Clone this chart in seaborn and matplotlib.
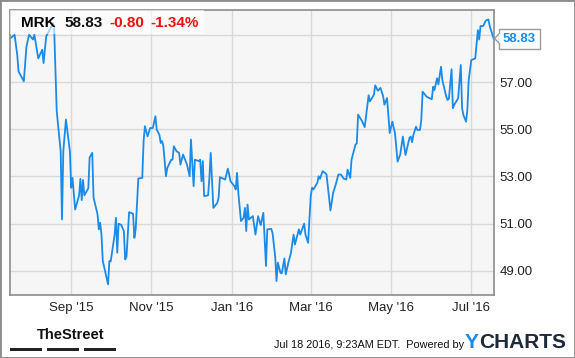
import numpy as np
import pandas as pd
import matplotlib
matplotlib.use("Agg")
import matplotlib.pyplot as plt
import matplotlib.dates as mdates
from matplotlib.patches import Rectangle, Polygon
import seaborn as sns

# MRK daily close
dates = [
    "2015-07-17", "2015-07-20", "2015-07-22", "2015-07-23", "2015-07-27", "2015-07-29",
    "2015-07-31", "2015-08-03", "2015-08-04", "2015-08-07", "2015-08-10", "2015-08-11",
    "2015-08-13", "2015-08-17", "2015-08-18", "2015-08-19", "2015-08-21", "2015-08-24",
    "2015-08-25", "2015-08-26", "2015-08-28", "2015-08-31", "2015-09-01", "2015-09-02",
    "2015-09-04", "2015-09-07", "2015-09-08", "2015-09-09", "2015-09-10", "2015-09-11",
    "2015-09-14", "2015-09-15", "2015-09-17", "2015-09-18", "2015-09-21", "2015-09-22",
    "2015-09-23", "2015-09-24", "2015-09-25", "2015-09-29", "2015-09-30", "2015-10-01",
    "2015-10-04", "2015-10-05", "2015-10-06", "2015-10-07", "2015-10-09", "2015-10-11",
    "2015-10-12", "2015-10-13", "2015-10-15", "2015-10-18", "2015-10-19", "2015-10-20",
    "2015-10-22", "2015-10-25", "2015-10-26", "2015-10-27", "2015-10-29", "2015-10-31",
    "2015-11-02", "2015-11-04", "2015-11-05", "2015-11-07", "2015-11-08", "2015-11-09",
    "2015-11-10", "2015-11-12", "2015-11-13", "2015-11-16", "2015-11-17", "2015-11-18",
    "2015-11-20", "2015-11-22", "2015-11-23", "2015-11-25", "2015-11-28", "2015-11-30",
    "2015-12-01", "2015-12-03", "2015-12-04", "2015-12-07", "2015-12-08", "2015-12-09",
    "2015-12-10", "2015-12-11", "2015-12-14", "2015-12-15", "2015-12-16", "2015-12-17",
    "2015-12-18", "2015-12-21", "2015-12-22", "2015-12-23", "2015-12-27", "2015-12-29",
    "2015-12-30", "2015-12-31", "2016-01-03", "2016-01-04", "2016-01-05", "2016-01-06",
    "2016-01-08", "2016-01-10", "2016-01-11", "2016-01-12", "2016-01-13", "2016-01-14",
    "2016-01-17", "2016-01-19", "2016-01-21", "2016-01-23", "2016-01-25", "2016-01-27",
    "2016-01-28", "2016-01-31", "2016-02-01", "2016-02-03", "2016-02-04", "2016-02-05",
    "2016-02-07", "2016-02-08", "2016-02-10", "2016-02-11", "2016-02-13", "2016-02-15",
    "2016-02-17", "2016-02-18", "2016-02-21", "2016-02-22", "2016-02-25", "2016-02-26",
    "2016-02-28", "2016-03-01", "2016-03-02", "2016-03-03", "2016-03-06", "2016-03-07",
    "2016-03-08", "2016-03-10", "2016-03-12", "2016-03-13", "2016-03-16", "2016-03-18",
    "2016-03-20", "2016-03-22", "2016-03-24", "2016-03-26", "2016-03-28", "2016-03-29",
    "2016-03-31", "2016-04-01", "2016-04-04", "2016-04-05", "2016-04-06", "2016-04-09",
    "2016-04-11", "2016-04-14", "2016-04-15", "2016-04-18", "2016-04-19", "2016-04-21",
    "2016-04-23", "2016-04-25", "2016-04-26", "2016-04-28", "2016-04-30", "2016-05-02",
    "2016-05-04", "2016-05-06", "2016-05-08", "2016-05-10", "2016-05-11", "2016-05-12",
    "2016-05-15", "2016-05-16", "2016-05-17", "2016-05-18", "2016-05-20", "2016-05-21",
    "2016-05-23", "2016-05-24", "2016-05-25", "2016-05-28", "2016-06-01", "2016-06-02",
    "2016-06-03", "2016-06-05", "2016-06-06", "2016-06-08", "2016-06-09", "2016-06-12",
    "2016-06-13", "2016-06-14", "2016-06-16", "2016-06-17", "2016-06-18", "2016-06-21",
    "2016-06-23", "2016-06-24", "2016-06-25", "2016-06-27", "2016-06-28", "2016-06-29",
    "2016-07-01", "2016-07-04", "2016-07-06", "2016-07-07", "2016-07-08", "2016-07-10",
    "2016-07-12", "2016-07-14", "2016-07-15", "2016-07-18",
]
prices = [
    58.86, 59.00, 58.15, 57.45, 57.03, 58.50,
    59.00, 58.80, 59.00, 58.00, 58.37, 57.80,
    58.93, 59.35, 59.50, 59.35, 55.76, 54.07,
    51.18, 54.07, 55.41, 54.07, 52.52, 52.94,
    51.60, 52.20, 52.90, 52.00, 52.85, 52.20,
    52.50, 53.80, 54.00, 52.10, 51.40, 50.76,
    51.04, 50.54, 49.42, 48.43, 49.42, 49.40,
    50.54, 51.25, 49.77, 51.00, 50.95, 50.69,
    49.49, 49.60, 51.49, 51.42, 50.40, 50.76,
    52.91, 52.94, 54.49, 55.13, 54.70, 55.05,
    55.05, 55.55, 54.98, 54.77, 54.42, 54.50,
    54.30, 53.01, 53.36, 53.71, 53.71, 54.28,
    54.07, 54.00, 53.50, 53.93, 53.50, 53.01,
    54.56, 52.59, 53.71, 53.65, 53.71, 52.80,
    53.65, 52.17, 52.20, 52.94, 54.00, 52.80,
    51.67, 51.88, 52.10, 52.97, 52.87, 53.33,
    53.10, 52.80, 52.59, 52.45, 53.15, 52.30,
    51.11, 51.25, 51.67, 50.69, 51.81, 51.18,
    51.32, 50.54, 51.32, 50.94, 51.46, 49.21,
    50.76, 50.78, 50.60, 49.60, 48.57, 49.35,
    48.92, 48.90, 49.53, 48.85, 49.35, 49.77,
    50.54, 50.12, 50.76, 50.54, 51.00, 50.54,
    50.19, 52.17, 52.52, 52.45, 52.73, 53.01,
    52.90, 53.22, 53.15, 53.08, 51.56, 52.30,
    52.66, 53.08, 53.08, 52.91, 52.87, 53.29,
    52.94, 53.71, 54.35, 54.40, 55.62, 55.34,
    55.09, 56.44, 56.18, 56.46, 56.86, 56.63,
    56.75, 56.40, 56.04, 56.32, 54.84, 55.32,
    54.84, 53.63, 53.93, 54.69, 54.28, 53.91,
    54.63, 54.69, 54.45, 54.76, 55.11, 54.97,
    54.97, 55.39, 56.59, 56.38, 56.27, 56.80,
    56.66, 57.16, 56.90, 57.65, 57.08, 56.38,
    56.24, 56.30, 57.54, 55.89, 56.03, 56.31,
    57.72, 55.89, 55.60, 55.32, 55.80, 57.08,
    57.93, 58.00, 59.20, 58.80, 59.37, 59.37,
    59.60, 59.65, 59.37, 58.83,
]
ticker = "MRK"
change = -0.80
change_pct = -1.34
y_ticks = [49, 51, 53, 55, 57, 59]
x_ticks = ["2015-09-01", "2015-11-01", "2016-01-01", "2016-03-01", "2016-05-01", "2016-07-01"]
stamp = "Jul 18 2016, 9:23AM EDT.  Powered by"

df = pd.DataFrame({"date": pd.to_datetime(dates), "price": prices})

sns.set_style("whitegrid")
plt.rcParams["font.family"] = ["Liberation Sans", "DejaVu Sans"]

W, H = 575, 358
fig = plt.figure(figsize=(W / 100, H / 100), dpi=100)
fig.patch.set_facecolor("white")


def fx(px):
    return px / W


def fy(py):
    return 1 - py / H


ax = fig.add_axes([fx(10), fy(295), fx(484), 285 / H])
ax.set_facecolor("#f6f6f6")

line_color = "#1a8be8"
sns.lineplot(data=df, x="date", y="price", ax=ax, color=line_color, linewidth=1.3)

ax.set_xlim(pd.Timestamp("2015-07-16 12:00"), pd.Timestamp("2016-07-18 6:00"))
ax.set_ylim(47.98, 60.05)

ax.yaxis.tick_right()
ax.set_yticks(y_ticks)
ax.set_yticklabels([f"{v:.2f}" if v < 59 else "" for v in y_ticks])
ax.set_xticks(pd.to_datetime(x_ticks))
ax.xaxis.set_major_formatter(mdates.DateFormatter("%b '%y"))
ax.tick_params(axis="both", length=0, labelsize=9.5, colors="#222222", pad=5)
ax.tick_params(axis="y", pad=4)
ax.set_xlabel("")
ax.set_ylabel("")
ax.grid(True, color="#d9d9d9", linewidth=1)
for side in ax.spines.values():
    side.set_color("#8c8c8c")
    side.set_linewidth(1.2)

# header box with ticker and change
ax.add_patch(Rectangle((0, 1 - 24 / 285), 194 / 484, 24 / 285, transform=ax.transAxes,
                       facecolor="white", alpha=0.6, edgecolor="none", zorder=3))
hdr = dict(fontsize=11, fontweight="bold", va="center")
fig.text(fx(21), fy(23), ticker, color="black", **hdr)
fig.text(fx(64), fy(23), f"{prices[-1]:.2f}", color="#111111", **hdr)
fig.text(fx(109), fy(23), f"{change:.2f}", color="#ee1111", **hdr)
fig.text(fx(150), fy(23), f"{change_pct:.2f}%", color="#ee1111", **hdr)

# last price tag with a small notch pointing at the line end
ax.annotate(f"{prices[-1]:.2f}", xy=(df["date"].iloc[-1], prices[-1]), xytext=(6.5, 0),
            textcoords="offset points", va="center", ha="left", fontsize=9.5,
            fontweight="bold", color=line_color, annotation_clip=False, zorder=6,
            bbox=dict(boxstyle="square,pad=0.3", facecolor="white", edgecolor="#9a9a9a", linewidth=1))
fig.patches.append(Polygon([(fx(494.5), fy(38.5)), (fx(499.5), fy(33.5)), (fx(499.5), fy(43.5))],
                           closed=True, transform=fig.transFigure, facecolor="white",
                           edgecolor="#9a9a9a", linewidth=1, zorder=7))
fig.patches.append(Rectangle((fx(499.3), fy(43)), 1.5 / W, 9 / H, transform=fig.transFigure,
                             facecolor="white", edgecolor="none", zorder=8))

# outer frame
fig.patches.append(Rectangle((0, 0), 1, 1, transform=fig.transFigure, fill=False,
                             edgecolor="#8c8c8c", linewidth=2, zorder=10))

# footer
fig.text(fx(37), fy(335), "TheStreet", fontsize=10.5, fontweight="bold", color="#111111",
         va="center", family=["DejaVu Sans Condensed", "Liberation Sans Narrow", "Liberation Sans"])
for x0 in [10, 47, 84]:
    fig.patches.append(Rectangle((fx(x0), fy(351)), fx(32), 3 / H, transform=fig.transFigure,
                                 facecolor="#222222", edgecolor="none"))
fig.text(fx(274), fy(345), stamp, fontsize=7.8, color="#111111", va="center")
fig.text(fx(465), fy(343), "Y", fontsize=15, fontweight="bold", color="#1a8be8", va="center")
fig.text(fx(479), fy(343), "CHARTS", fontsize=15, fontweight="bold", color="#1e2a3a", va="center")

plt.savefig("out.png", dpi=100)
